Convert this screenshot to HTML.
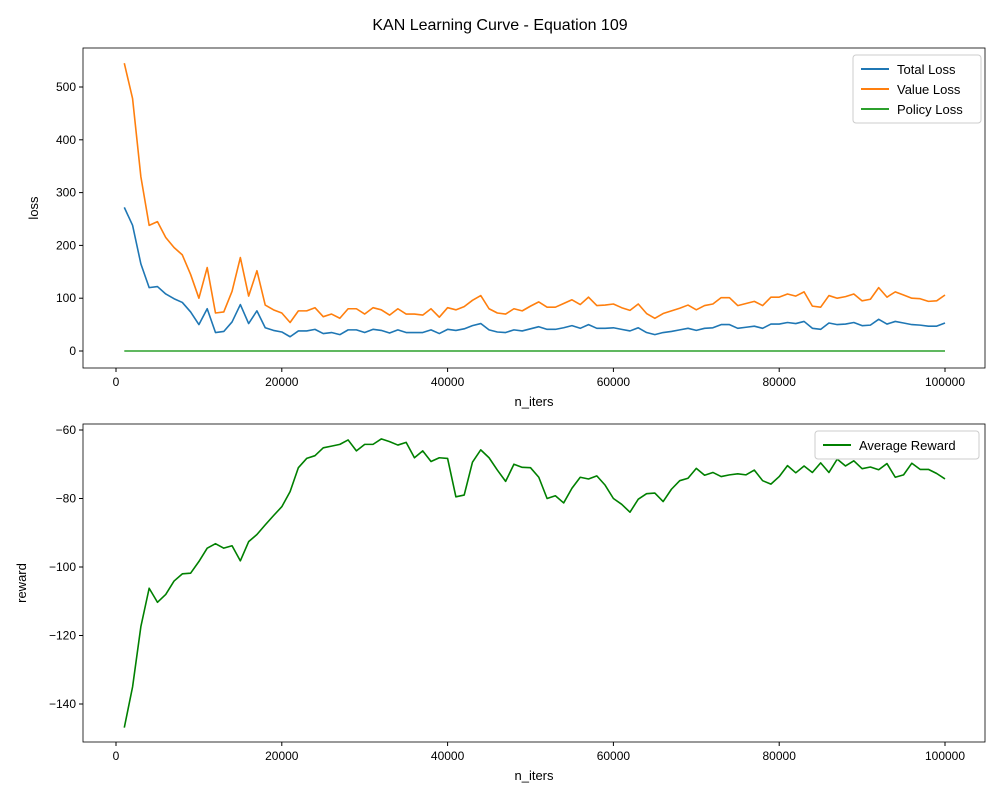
<!DOCTYPE html>
<html><head><meta charset="utf-8"><style>
body{margin:0;background:#fff;}
svg{display:block;font-family:"Liberation Sans","DejaVu Sans",sans-serif;}
</style></head><body>
<svg id="fig" width="1000" height="800">
<text x="500" y="30" text-anchor="middle" font-size="16">KAN Learning Curve - Equation 109</text>
</svg>
<script>
const iters = Array.from({length:100},(_,i)=>(i+1)*1000);
const valueLoss=[545,478,330,238,245,215,196,182,145,100,158,72,74,113,177,104,152,87,78,72,54,76,76,82,65,70,62,80,80,70,82,78,68,80,70,70,68,80,64,82,78,84,96,105,80,72,70,80,76,85,93,83,83,90,97,88,102,86,87,89,82,77,89,71,62,71,76,81,87,78,86,89,101,101,86,90,94,86,102,102,108,104,112,85,83,105,100,103,108,95,98,120,102,112,106,100,99,94,95,106];
const totalLoss=[272,238,165,120,122,108,99,92,74,50,80,35,37,55,88,52,76,44,39,36,27,38,38,41,33,35,31,40,40,35,41,39,34,40,35,35,35,40,33,41,39,42,48,52,40,36,35,40,38,42,46,41,41,44,48,43,50,43,43,44,41,38,44,35,31,35,37,40,43,39,43,44,50,50,43,45,47,43,51,51,54,52,56,43,41,53,50,51,54,48,49,60,51,56,53,50,49,47,47,53];
const policyLoss=iters.map(()=>0);
const reward=[-146.9,-135,-117.4,-106.2,-110.3,-108,-104.1,-102,-101.8,-98.4,-94.5,-93.2,-94.5,-93.8,-98.2,-92.6,-90.5,-87.7,-85,-82.4,-78,-71,-68.3,-67.5,-65.2,-64.7,-64.2,-62.9,-66.1,-64.2,-64.2,-62.6,-63.4,-64.4,-63.6,-68.1,-66.1,-69.2,-68.1,-68.3,-79.5,-79,-69.4,-65.8,-68.1,-71.7,-75,-70,-70.9,-71,-73.8,-80,-79.2,-81.3,-77,-73.8,-74.3,-73.4,-76.1,-80,-81.7,-84,-80.2,-78.6,-78.4,-80.9,-77.3,-74.8,-74.1,-71.2,-73.2,-72.4,-73.6,-73.1,-72.8,-73.1,-71.7,-74.8,-75.8,-73.6,-70.4,-72.5,-70.5,-72.4,-69.6,-72.4,-68.5,-70.5,-69,-71.3,-70.8,-71.6,-69.8,-73.8,-73.1,-69.7,-71.5,-71.5,-72.7,-74.3];
const xTicks=[0,20000,40000,60000,80000,100000];
const lossTicks=[0,100,200,300,400,500];
const rewardTicks=[-60,-80,-100,-120,-140];

const NS="http://www.w3.org/2000/svg";
const svg=document.getElementById('fig');
function el(tag,attrs,parent){const e=document.createElementNS(NS,tag);for(const k in attrs)e.setAttribute(k,attrs[k]);(parent||svg).appendChild(e);return e;}
const xs=v=>116+v*(945-116)/100000;
const yLoss=v=>351-v*(351-87)/500;
const yRew=v=>430+(-60-v)*(704-430)/80;

function axes(top,bottom,yfn,yticks,ylabel,name){
  const g=el('g',{});
  
  
  const f=el('rect',{x:83,y:top,width:902,height:bottom-top,fill:'none',stroke:'#000','stroke-width':0.8},g);
  
  
  xTicks.forEach(t=>{const x=xs(t);el('line',{x1:x,x2:x,y1:bottom,y2:bottom+4,stroke:'#000'},g);
    const tx=el('text',{x:x,y:bottom+18,'text-anchor':'middle','font-size':12},g);tx.textContent=t;
    
    });
  yticks.forEach(t=>{const y=yfn(t);el('line',{x1:79,x2:83,y1:y,y2:y,stroke:'#000'},g);
    const tx=el('text',{x:76,y:y+4,'text-anchor':'end','font-size':12},g);tx.textContent=String(t).replace('-','\u2212');
    
    });
  const xl=el('text',{x:534,y:bottom+38,'text-anchor':'middle','font-size':13},g);xl.textContent='n_iters';
  
  
  const cy=(top+bottom)/2;
  const yl=el('text',{x:0,y:0,'text-anchor':'middle','font-size':13,transform:`translate(${name==='loss-axes'?38:26},${cy}) rotate(-90)`},g);yl.textContent=ylabel;
  
  
}
function line(vals,yfn,color,name){
  const p=el('polyline',{points:vals.map((v,i)=>xs(iters[i])+','+yfn(v)).join(' '),fill:'none',stroke:color,'stroke-width':1.6,'stroke-linejoin':'round'});
  
  
}
axes(48,368,yLoss,lossTicks,'loss','loss-axes');
axes(424,742,yRew,rewardTicks,'reward','reward-axes');
line(policyLoss,yLoss,'#2ca02c','policy-loss-line');
line(valueLoss,yLoss,'#ff7f0e','value-loss-line');
line(totalLoss,yLoss,'#1f77b4','total-loss-line');
line(reward,yRew,'#008000','average-reward-line');

function legend(x,y,w,entries,name){
  const g=el('g',{});
  
  
  el('rect',{x:x,y:y,width:w,height:entries.length*20+8,rx:3,fill:'#fff',stroke:'#ccc'},g);
  entries.forEach((e,i)=>{const cy=y+14+i*20;
    el('line',{x1:x+8,x2:x+36,y1:cy,y2:cy,stroke:e[1],'stroke-width':2},g);
    const t=el('text',{x:x+44,y:cy+5,'font-size':13},g);t.textContent=e[0];
    
    });
}
legend(853,55,128,[['Total Loss','#1f77b4'],['Value Loss','#ff7f0e'],['Policy Loss','#2ca02c']],'loss-legend');
legend(815,431,164,[['Average Reward','#008000']],'reward-legend');
</script>
</body></html>
